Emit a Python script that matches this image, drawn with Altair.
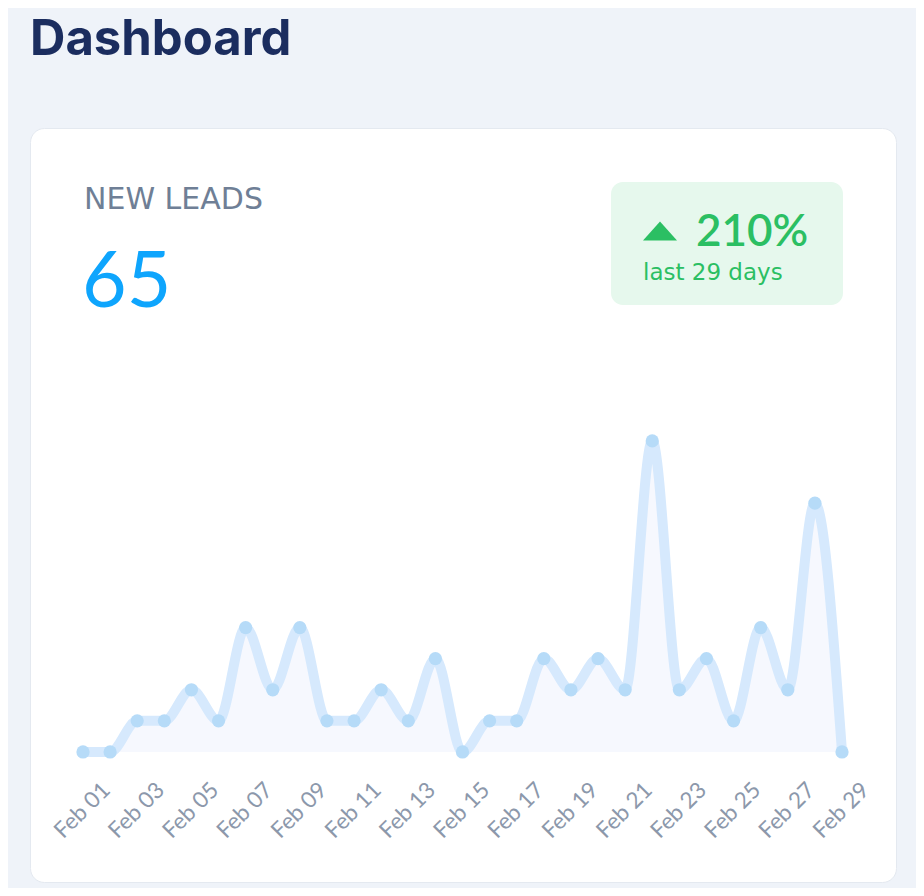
import altair as alt
import pandas as pd

# ---- data ----
days = ["Feb %02d" % d for d in range(1, 30)]
leads = [0, 0, 1, 1, 2, 1, 4, 2, 4, 1, 1, 2, 1, 3, 0, 1, 1, 3, 2, 3, 2, 10, 2, 3, 1, 4, 2, 8, 0]
tick_labels = days[::2]

page_title = ["Dashboard"]
metric_label = ["NEW LEADS"]
metric_value = ["65"]
change_value = ["210%"]
change_period = ["last 29 days"]

df = pd.DataFrame({"day": days, "leads": leads})

W, H = 866, 754
BG = "#eff3f9"
GREEN = "#2bbf63"

x_enc = alt.X(
    "day:O",
    sort=days,
    scale=alt.Scale(type="point", range=[53, 812], padding=0),
    title=None,
    axis=alt.Axis(
        values=tick_labels,
        labelAngle=-45,
        labelAlign="right",
        labelBaseline="middle",
        labelPadding=34,
        position=23,
        labelFontSize=22.5,
        labelFont="Lato",
        labelColor="#8c98ab",
        labelOverlap=False,
        labelBound=False,
        labelFlush=False,
        domain=False,
        ticks=False,
        grid=False,
        offset=-130,
    ),
)
y_enc = alt.Y("leads:Q", scale=alt.Scale(domain=[-4.18, 20.06], nice=False, zero=False), axis=None)

area = alt.Chart(df).mark_area(interpolate="monotone", color="#f6f8fe").encode(
    x=x_enc, y=y_enc, y2=alt.datum(0)
)
line = alt.Chart(df).mark_line(
    interpolate="monotone", strokeWidth=10, color="#d6e9fd", strokeCap="round", strokeJoin="round"
).encode(x=x_enc, y=y_enc)
points = alt.Chart(df).mark_circle(size=175, color="#b6dbf8", opacity=1).encode(x=x_enc, y=y_enc)


def text_layer(values, x, y, size, color, font, weight="normal", align="left"):
    return alt.Chart(pd.DataFrame({"t": values})).mark_text(
        align=align, baseline="alphabetic", fontSize=size, color=color, font=font, fontWeight=weight
    ).encode(x=alt.value(x), y=alt.value(y), text="t:N")


badge = alt.Chart(pd.DataFrame({"t": change_value})).mark_rect(
    color="#e6f8ed", cornerRadius=12
).encode(x=alt.value(581), x2=alt.value(813), y=alt.value(54), y2=alt.value(177))

tri = alt.Chart(pd.DataFrame({"t": change_value})).mark_point(
    shape="M-1,0.56L0,-0.56L1,0.56Z", size=1156, filled=True, color=GREEN, opacity=1, strokeWidth=0
).encode(x=alt.value(630), y=alt.value(103))

chart = alt.layer(
    area,
    line,
    points,
    badge,
    tri,
    text_layer(page_title, 0, -73, 49, "#1b2d5f", "Inter", "bold"),
    text_layer(metric_label, 54, 81, 30, "#6f7f96", "DejaVu Sans"),
    text_layer(metric_value, 52, 179, 77, "#0ea5fd", "Lato"),
    text_layer(change_value, 666, 118, 44, GREEN, "Lato", 600),
    text_layer(change_period, 613, 152, 23, GREEN, "DejaVu Sans"),
).properties(
    width=W,
    height=H,
    background=BG,
    padding={"left": 22, "top": 120, "right": 20, "bottom": 6},
    autosize=alt.AutoSizeParams(type="none"),
).configure_view(
    fill="white", cornerRadius=14, stroke="#e4e9f0", strokeWidth=1
)

chart.save("out.html", embed_options={"renderer": "svg", "actions": False})
